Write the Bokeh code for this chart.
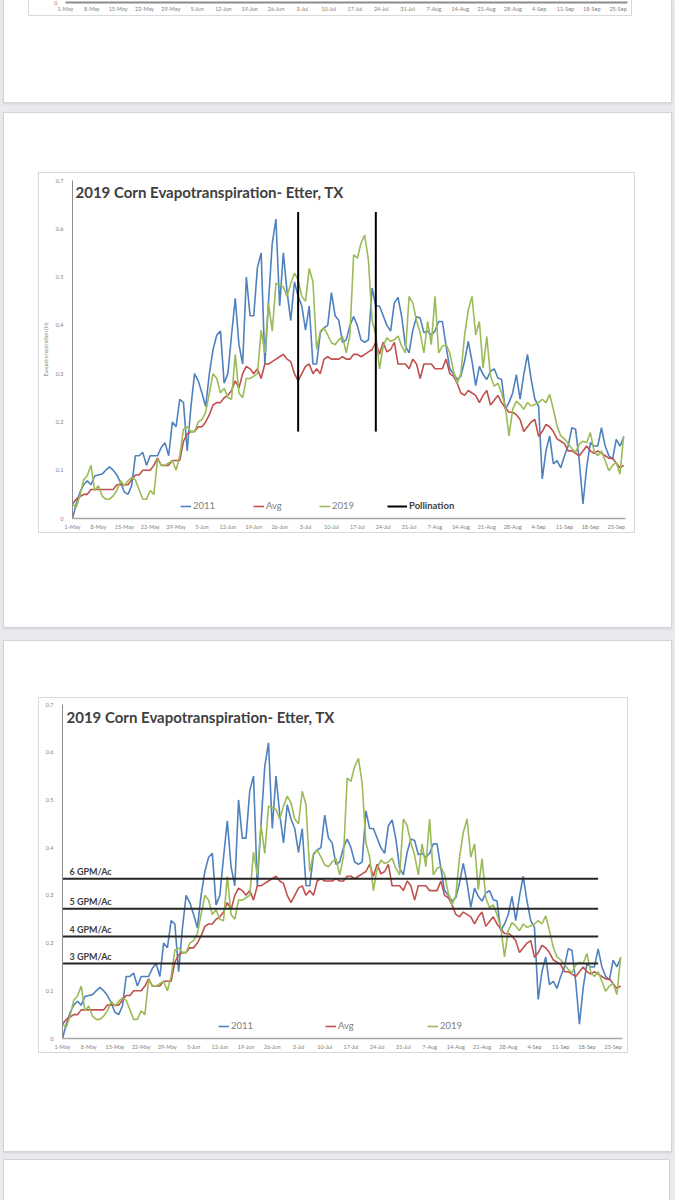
from bokeh.plotting import figure
from bokeh.models import (Range1d, FixedTicker, Legend, LegendItem, Label, ColumnDataSource,
                          Spacer, GlobalInlineStyleSheet)
from bokeh.layouts import column, row
from bokeh.embed import file_html
from bokeh.resources import INLINE
from bokeh.core.properties import value

# ---------------- data ----------------
days = list(range(150))  # day 0 = 1-May

et_2011 = [0.0, 0.03, 0.054, 0.07, 0.078, 0.07, 0.088, 0.09, 0.092, 0.10,
           0.107, 0.10, 0.09, 0.075, 0.055, 0.05, 0.068, 0.13, 0.13, 0.137,
           0.11, 0.13, 0.13, 0.13, 0.147, 0.157, 0.13, 0.20, 0.19, 0.247,
           0.24, 0.14, 0.23, 0.30, 0.285, 0.26, 0.232, 0.30, 0.35, 0.38,
           0.388, 0.28, 0.30, 0.38, 0.456, 0.36, 0.32, 0.50, 0.42, 0.42,
           0.52, 0.55, 0.32, 0.45, 0.57, 0.62, 0.44, 0.55, 0.47, 0.41,
           0.49, 0.46, 0.44, 0.39, 0.44, 0.32, 0.32, 0.385, 0.395, 0.40,
           0.468, 0.42, 0.41, 0.365, 0.37, 0.40, 0.418, 0.40, 0.37, 0.365,
           0.37, 0.477, 0.44, 0.44, 0.42, 0.40, 0.388, 0.446, 0.458, 0.418,
           0.357, 0.343, 0.39, 0.418, 0.415, 0.385, 0.388, 0.38, 0.388, 0.408,
           0.408, 0.357, 0.31, 0.30, 0.288, 0.295, 0.326, 0.367, 0.326, 0.275,
           0.315, 0.298, 0.288, 0.305, 0.31, 0.291, 0.288, 0.226, 0.24, 0.26,
           0.298, 0.247, 0.298, 0.34, 0.288, 0.247, 0.233, 0.082, 0.14, 0.171,
           0.113, 0.12, 0.105, 0.13, 0.15, 0.188, 0.185, 0.12, 0.03, 0.106,
           0.157, 0.15, 0.15, 0.188, 0.15, 0.13, 0.123, 0.164, 0.15, 0.168]

et_avg = [0.03, 0.04, 0.045, 0.05, 0.05, 0.06, 0.06, 0.06, 0.06, 0.06,
          0.06, 0.06, 0.07, 0.07, 0.07, 0.07, 0.08, 0.09, 0.09, 0.10,
          0.10, 0.10, 0.11, 0.125, 0.11, 0.11, 0.11, 0.12, 0.12, 0.12,
          0.16, 0.175, 0.18, 0.18, 0.19, 0.19, 0.20, 0.215, 0.235, 0.24,
          0.24, 0.25, 0.255, 0.265, 0.285, 0.27, 0.30, 0.315, 0.31, 0.30,
          0.31, 0.29, 0.32, 0.32, 0.325, 0.33, 0.335, 0.34, 0.33, 0.325,
          0.30, 0.285, 0.30, 0.315, 0.32, 0.30, 0.31, 0.30, 0.33, 0.335,
          0.33, 0.33, 0.33, 0.335, 0.33, 0.33, 0.34, 0.34, 0.335, 0.34,
          0.345, 0.35, 0.365, 0.34, 0.365, 0.345, 0.35, 0.365, 0.32, 0.32,
          0.32, 0.31, 0.33, 0.32, 0.29, 0.32, 0.32, 0.32, 0.31, 0.31,
          0.31, 0.33, 0.30, 0.295, 0.28, 0.26, 0.255, 0.265, 0.26, 0.255,
          0.24, 0.255, 0.265, 0.235, 0.245, 0.255, 0.24, 0.23, 0.22, 0.22,
          0.215, 0.205, 0.18, 0.19, 0.20, 0.205, 0.17, 0.18, 0.195, 0.19,
          0.18, 0.165, 0.16, 0.155, 0.14, 0.14, 0.135, 0.13, 0.14, 0.15,
          0.14, 0.135, 0.14, 0.135, 0.13, 0.125, 0.125, 0.115, 0.105, 0.11]

et_2019 = [0.03, 0.023, 0.047, 0.08, 0.089, 0.11, 0.058, 0.068, 0.047, 0.04,
           0.04, 0.047, 0.058, 0.078, 0.068, 0.078, 0.085, 0.08, 0.06, 0.04,
           0.04, 0.058, 0.05, 0.123, 0.11, 0.11, 0.115, 0.12, 0.10, 0.13,
           0.185, 0.19, 0.18, 0.18, 0.20, 0.205, 0.22, 0.26, 0.30, 0.29,
           0.26, 0.27, 0.25, 0.247, 0.34, 0.26, 0.25, 0.29, 0.29, 0.295,
           0.30, 0.39, 0.343, 0.446, 0.388, 0.487, 0.484, 0.48, 0.46, 0.487,
           0.508, 0.494, 0.46, 0.45, 0.518, 0.49, 0.35, 0.388, 0.395, 0.38,
           0.364, 0.36, 0.37, 0.377, 0.343, 0.38, 0.546, 0.539, 0.57, 0.587,
           0.535, 0.41, 0.38, 0.31, 0.357, 0.374, 0.367, 0.37, 0.378, 0.357,
           0.343, 0.46, 0.446, 0.41, 0.384, 0.343, 0.408, 0.36, 0.46, 0.343,
           0.357, 0.36, 0.343, 0.305, 0.28, 0.30, 0.38, 0.432, 0.46, 0.38,
           0.408, 0.312, 0.377, 0.295, 0.274, 0.28, 0.26, 0.233, 0.171, 0.226,
           0.243, 0.236, 0.226, 0.24, 0.233, 0.236, 0.24, 0.247, 0.24, 0.257,
           0.226, 0.192, 0.171, 0.165, 0.155, 0.145, 0.137, 0.154, 0.16, 0.157,
           0.178, 0.14, 0.13, 0.14, 0.12, 0.099, 0.11, 0.116, 0.092, 0.171]

tick_days = [0, 7, 14, 21, 28, 35, 42, 49, 56, 63, 70, 77, 84, 91, 98, 105, 112, 119, 126, 133, 140, 147]
tick_labels = ["1-May", "8-May", "15-May", "22-May", "29-May", "5-Jun", "12-Jun", "19-Jun", "26-Jun",
               "3-Jul", "10-Jul", "17-Jul", "24-Jul", "31-Jul", "7-Aug", "14-Aug", "21-Aug", "28-Aug",
               "4-Sep", "11-Sep", "18-Sep", "25-Sep"]
y_ticks = [0, 0.1, 0.2, 0.3, 0.4, 0.5, 0.6, 0.7]
y_tick_labels = ["0", "0.1", "0.2", "0.3", "0.4", "0.5", "0.6", "0.7"]

pollination_days = [61, 82]
pollination_low = 0.18
pollination_high = 0.635

gpm_labels = ["6 GPM/Ac", "5 GPM/Ac", "4 GPM/Ac", "3 GPM/Ac"]
gpm_values = [0.335, 0.272, 0.214, 0.157]
gpm_end_day = 143

title_text = "2019 Corn Evapotranspiration- Etter, TX"

# ---------------- styles ----------------
C2011 = "#4f81bd"
CAVG = "#c0504d"
C2019 = "#9bbb59"
PAGE_BG = "#e9e9ee"
CARD_BORDER = "#d3d3da"
FRAME_BORDER = "#d9d9d9"
FONT = "Lato"


def style_axes(p, xstand, ystand):
    p.xgrid.visible = False
    p.ygrid.visible = False
    p.xaxis.ticker = FixedTicker(ticks=tick_days)
    p.xaxis.major_label_overrides = {d: l for d, l in zip(tick_days, tick_labels)}
    p.yaxis.ticker = FixedTicker(ticks=y_ticks)
    p.yaxis.major_label_overrides = {v: l for v, l in zip(y_ticks, y_tick_labels)}
    for ax in (p.xaxis[0], p.yaxis[0]):
        ax.major_tick_line_color = None
        ax.minor_tick_line_color = None
        ax.major_tick_out = 0
        ax.major_tick_in = 0
        ax.minor_tick_out = 0
        ax.minor_tick_in = 0
        ax.major_label_text_font = FONT
        ax.major_label_text_font_size = "5.5px"
        ax.major_label_text_color = "#7f7f7f"
    p.xaxis.major_label_standoff = xstand
    p.yaxis.major_label_standoff = ystand
    p.xaxis.axis_line_color = "#a6a6a6"
    p.xaxis.axis_line_width = 1.3
    p.yaxis.axis_line_color = "#8c8c8c"
    p.yaxis.axis_line_width = 1


def add_legend(p, renderer, label, x, y, bold=False, color="#7f7f7f", gw=11):
    lg = Legend(items=[LegendItem(label=label, renderers=[renderer])], location=(x, y),
                orientation="horizontal", padding=0, margin=0, border_line_color=None,
                background_fill_alpha=0, label_text_font=FONT, label_text_font_size="9.5px",
                label_text_color=color, label_text_font_style="bold" if bold else "normal",
                glyph_width=gw, glyph_height=10, label_height=10, label_standoff=2, spacing=0)
    p.add_layout(lg)


def series(p):
    src = ColumnDataSource(dict(d=days, a=et_2011, m=et_avg, b=et_2019))
    r1 = p.line("d", "a", source=src, line_color=C2011, line_width=1.6)
    r2 = p.line("d", "m", source=src, line_color=CAVG, line_width=1.6)
    r3 = p.line("d", "b", source=src, line_color=C2019, line_width=1.6)
    return r1, r2, r3


# ---------------- chart 1 (pollination) ----------------
p1 = figure(width=597, height=361, x_range=Range1d(0, 149.5), y_range=Range1d(0, 0.7),
            output_backend="svg", toolbar_location=None,
            min_border_left=33, min_border_right=11, min_border_top=7, min_border_bottom=16,
            outline_line_color=None, background_fill_color="white", border_fill_color="white",
            styles={"border": "1px solid " + FRAME_BORDER})
style_axes(p1, 5, 9)
p1.yaxis.axis_label = "Evapotranspiration (in)"
p1.yaxis.axis_label_text_font = FONT
p1.yaxis.axis_label_text_font_size = "5.5px"
p1.yaxis.axis_label_text_font_style = "normal"
p1.yaxis.axis_label_text_color = "#7f7f7f"
p1.yaxis.axis_label_standoff = 4
a1, m1, b1 = series(p1)
pol = p1.segment(x0=pollination_days, x1=pollination_days, y0=[pollination_low] * 2,
                 y1=[pollination_high] * 2, line_color="black", line_width=2)
p1.add_layout(Label(x=0, y=0.7, x_offset=3, y_offset=-2, text=title_text, text_font=FONT,
                    text_font_style="bold", text_font_size="15px", text_color="#404040",
                    text_baseline="top"))
add_legend(p1, a1, "2011", 108, 7)
add_legend(p1, m1, "Avg", 181, 7)
add_legend(p1, b1, "2019", 247, 7)
add_legend(p1, pol, "Pollination", 315, 7, bold=True, color="#404040", gw=20)

# ---------------- chart 2 (GPM) ----------------
p2 = figure(width=590, height=356, x_range=Range1d(0, 149.5), y_range=Range1d(0, 0.7),
            output_backend="svg", toolbar_location=None,
            min_border_left=23, min_border_right=7, min_border_top=6, min_border_bottom=16,
            outline_line_color=None, background_fill_color="white", border_fill_color="white",
            styles={"border": "1px solid " + FRAME_BORDER})
style_axes(p2, 5, 9)
a2, m2, b2 = series(p2)
gsrc = ColumnDataSource(dict(lab=gpm_labels, v=gpm_values, x0=[0] * 4, x1=[gpm_end_day] * 4))
p2.segment(x0="x0", x1="x1", y0="v", y1="v", source=gsrc, line_color="#262626", line_width=2)
p2.text(x="x0", y="v", text="lab", source=gsrc, x_offset=7, y_offset=-7, text_font=value(FONT),
        text_font_style="bold", text_font_size="9px", text_color="#404040", text_baseline="middle")
p2.add_layout(Label(x=0, y=0.7, x_offset=4, y_offset=-3, text=title_text, text_font=FONT,
                    text_font_style="bold", text_font_size="15px", text_color="#404040",
                    text_baseline="top"))
add_legend(p2, a2, "2011", 156, 7)
add_legend(p2, m2, "Avg", 263, 7)
add_legend(p2, b2, "2019", 365, 7)

# ---------------- top (cut-off) chart: only its date axis is visible ----------------
p0 = figure(width=604, height=16, x_range=Range1d(0, 149.5), y_range=Range1d(0, 0.7),
            output_backend="svg", toolbar_location=None,
            min_border_left=36, min_border_right=6, min_border_top=0, min_border_bottom=14,
            outline_line_color=None, background_fill_color="white", border_fill_color="white",
            styles={"border-left": "1px solid " + FRAME_BORDER, "border-right": "1px solid " + FRAME_BORDER,
                    "border-bottom": "1px solid " + FRAME_BORDER})
style_axes(p0, 3, 8)
p0.yaxis.ticker = FixedTicker(ticks=[0])
p0.xaxis.axis_line_color = "#8c8c8c"
p0.xaxis.axis_line_width = 2
p0.yaxis.axis_line_color = None

# ---------------- page / cards ----------------
card_style = {"background-color": "white", "border": "1px solid " + CARD_BORDER,
              "box-shadow": "0 1px 2px rgba(0,0,0,0.10)"}
card_top_style = {"background-color": "white", "border-left": "1px solid " + CARD_BORDER,
                  "border-right": "1px solid " + CARD_BORDER, "border-bottom": "1px solid " + CARD_BORDER,
                  "box-shadow": "0 1px 2px rgba(0,0,0,0.10)"}

card1 = column(row(Spacer(width=24, height=17), p0, Spacer(width=37, height=17)),
               Spacer(width=667, height=85), styles=card_top_style)
card2 = column(Spacer(width=667, height=59),
               row(Spacer(width=34, height=363), p1, Spacer(width=34, height=363)),
               Spacer(width=667, height=92), styles=card_style)
card3 = column(Spacer(width=667, height=56),
               row(Spacer(width=34, height=358), p2, Spacer(width=41, height=358)),
               Spacer(width=667, height=96), styles=card_style)
card4 = Spacer(width=667, height=45, styles={"background-color": "white", "border": "1px solid " + CARD_BORDER})

page = column(
    row(Spacer(width=3, height=103), card1),
    Spacer(width=675, height=9),
    row(Spacer(width=3, height=516), card2),
    Spacer(width=675, height=12),
    row(Spacer(width=3, height=512), card3),
    Spacer(width=675, height=7),
    row(Spacer(width=3, height=45), card4),
    styles={"background-color": PAGE_BG},
    stylesheets=[GlobalInlineStyleSheet(css="html, body { margin: 0; padding: 0; background: " + PAGE_BG + "; overflow: hidden; }")],
)

open("out.html", "w").write(file_html(page, INLINE))
